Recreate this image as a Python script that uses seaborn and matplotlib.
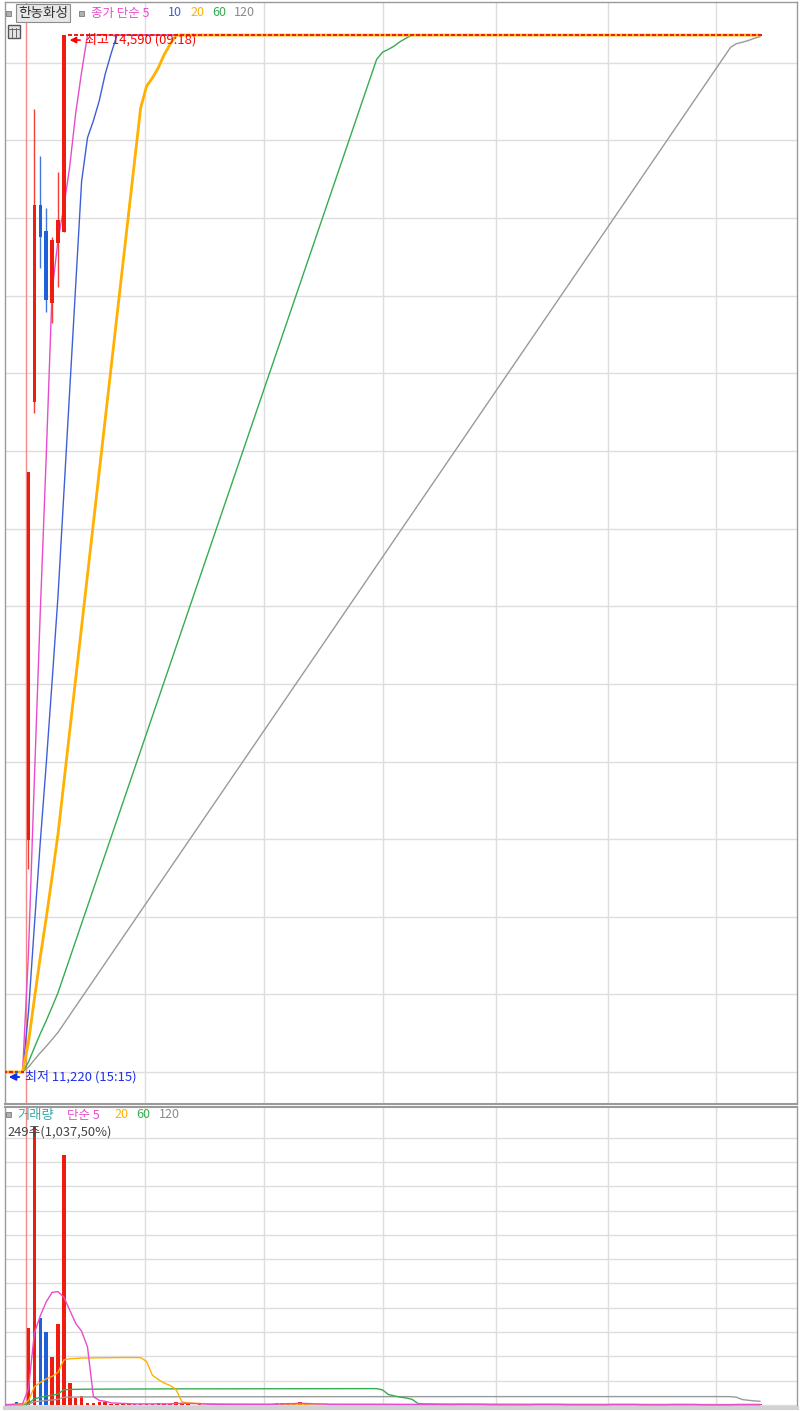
import numpy as np
import pandas as pd
import matplotlib
matplotlib.use("Agg")
import matplotlib.pyplot as plt
import seaborn as sns
from matplotlib.patches import Rectangle

# ---------------- data ----------------
stock_name = "한농화성"
# earlier bars of the previous session (not on screen), pinned at 11,220
hidden_prev_bars = 116
hidden_prev_close = 11220
hidden_prev_volume = 100

# 3-minute bars shown on screen (index 0 = 09:00 of today)
bar_index = [-4, -3, -2, -1, 0, 1, 2, 3, 4, 5, 6]
bar_open = [11220, 11220, 11220, 11220, 11974, 13397, 14038, 13953, 13719, 13914, 13950]
bar_high = [11220, 11220, 11220, 11220, 13170, 14350, 14197, 14028, 13934, 14145, 14590]
bar_low = [11220, 11220, 11220, 11220, 11880, 13362, 13833, 13690, 13654, 13771, 13950]
bar_close = [11220, 11220, 11220, 11220, 13170, 14038, 13934, 13729, 13924, 13989, 14590]
bar_volume = [300, 500, 1200, 400, 31700, 114400, 35800, 30000, 19800, 33300, 102900]
bar_dir = ["flat", "flat", "down", "flat", "up", "up", "down", "down", "up", "up", "up"]

# from 09:21 on the price stays locked at the upper limit
limit_price = 14590
limit_first_index = 7
limit_volume = [
    9000, 2900, 3700, 800, 800, 1200, 1100,
    400, 300, 500, 600, 400, 500,
    300, 400, 700, 600, 300, 1200, 700, 400, 200, 300,
    200, 300, 200, 200, 300, 200, 200, 300, 200, 200,
    200, 300, 900, 700, 700, 300, 1100, 300, 200, 200,
    200, 200, 300, 200, 200, 200, 300, 200, 200, 200,
    200, 200, 200, 300, 200, 200, 200, 200, 200, 200,
    100, 100, 100, 600, 100, 100, 100, 100, 100, 100,
    100, 100, 100, 100, 100, 100, 600, 100, 100, 100,
    100, 100, 100, 100, 100, 100, 100, 100, 100, 600,
    100, 100, 100, 100, 100, 100, 100, 100, 100, 600,
    100, 100, 100, 100, 100, 100, 100, 100, 100, 100,
    600, 100, 100, 24, 249,
]

price_ma_periods = [5, 10, 20, 60, 120]
price_ma_colors = ["#e84ccc", "#3f5fd6", "#ffb000", "#34ad52", "#9a9a9a"]
price_ma_widths = [1.0, 1.0, 2.0, 1.0, 1.0]
vol_ma_periods = [5, 20, 60, 120]
vol_ma_colors = ["#e84ccc", "#ffb000", "#34ad52", "#9a9a9a"]

high_text = "최고 14,590 (09:18)"
low_text = "최저 11,220 (15:15)"
vol_text = "249주(1,037,50%)"

price_grid = [11220, 11472, 11725, 11977, 12229, 12482, 12734, 12986,
              13238, 13491, 13743, 13995, 14248, 14500]
time_grid = [19.75, 39.9, 60.1, 79.2, 98.3, 116.5]
vol_grid = [0, 10000, 20000, 30000, 40000, 50000, 60000, 70000, 80000,
            90000, 100000, 110000]

# ---------------- assemble series ----------------
n_limit = len(limit_volume)
limit_index = list(range(limit_first_index, limit_first_index + n_limit))
full_index = list(range(bar_index[0] - hidden_prev_bars, bar_index[0])) + bar_index + limit_index
full_close = [hidden_prev_close] * hidden_prev_bars + bar_close + [limit_price] * n_limit
full_volume = [hidden_prev_volume] * hidden_prev_bars + bar_volume + limit_volume
df = pd.DataFrame({"idx": full_index, "close": full_close, "volume": full_volume})
for p in price_ma_periods:
    df[f"ma{p}"] = df["close"].rolling(p).mean()
for p in vol_ma_periods:
    df[f"vma{p}"] = df["volume"].rolling(p).mean()
shown = df[df["idx"] >= bar_index[0] - 1].copy()

RED = "#f01c10"
BLUE = "#1f5fd8"

# ---------------- figure ----------------
sns.set_theme(style="white")
plt.rcParams["font.family"] = ["Noto Sans CJK KR", "DejaVu Sans"]

W, H = 800, 1411
fig = plt.figure(figsize=(W / 100, H / 100), dpi=100)
fig.patch.set_facecolor("white")


def fx(px):
    return px / W


def fy(py):
    return 1 - py / H


ax = fig.add_axes([fx(5), fy(1104), fx(792), 1102 / H])
axv = fig.add_axes([fx(5), fy(1408), fx(792), 301 / H])

x0, dxp = 28.5, 5.9
xmin, xmax = (5 - x0) / dxp, (797 - x0) / dxp
ppx = 3.25
ax.set_xlim(xmin, xmax)
ax.set_ylim(11220 - 32 * ppx, 11220 + 1070 * ppx)
vpx = 411.5
axv.set_xlim(xmin, xmax)
axv.set_ylim(-3 * vpx, 298 * vpx)

for a in (ax, axv):
    a.set_facecolor("white")
    a.set_xticks(time_grid)
    a.grid(True, color="#dedede", lw=1.0)
    a.tick_params(length=0, labelleft=False, labelbottom=False)
    a.set_xlabel("")
    a.set_ylabel("")
    a.set_axisbelow(True)
    a.axvline(-0.5, color="#f28a8a", lw=1.0, zorder=1)
    for s in a.spines.values():
        s.set_color("#9a9a9a")
        s.set_linewidth(1.0)
ax.set_yticks(price_grid)
axv.set_yticks(vol_grid)
ax.spines["bottom"].set_linewidth(1.5)
axv.spines["top"].set_linewidth(1.5)
axv.spines["bottom"].set_color("#cfd3d8")
axv.spines["bottom"].set_linewidth(3)

# price moving averages
for p, c, lw in zip(price_ma_periods[::-1], price_ma_colors[::-1], price_ma_widths[::-1]):
    if p == 20:
        continue
    sns.lineplot(data=shown, x="idx", y=f"ma{p}", ax=ax, color=c, linewidth=lw,
                 estimator=None, legend=False, zorder=3)
sns.lineplot(data=shown, x="idx", y="ma20", ax=ax, color=price_ma_colors[2],
             linewidth=price_ma_widths[2], estimator=None, legend=False, zorder=3)

# candles
bw = 0.6
for i, o, h, l, c, d in zip(bar_index, bar_open, bar_high, bar_low, bar_close, bar_dir):
    col = BLUE if d == "down" else RED
    ax.vlines(i, l, h, color=col, lw=1.0, alpha=0.85, zorder=4)
    if o == c:
        ax.hlines(c, i - bw / 2, i + bw / 2, color=col, lw=1.6, zorder=5)
    else:
        ax.bar(i, abs(c - o), bottom=min(o, c), width=bw, color=col, zorder=5, linewidth=0)
ax.hlines([limit_price] * n_limit, np.array(limit_index) - 0.33,
          np.array(limit_index) + 0.33, color=RED, lw=1.4, zorder=5)

# volume bars
vcol = []
for d in bar_dir:
    vcol.append(BLUE if d == "down" else (RED if d == "up" else "#8a8a8a"))
axv.bar(bar_index, bar_volume, width=bw, color=vcol, linewidth=0, zorder=3)
axv.bar(limit_index, limit_volume, width=bw, color=RED, linewidth=0, zorder=3)

for p, c in zip(vol_ma_periods[::-1], vol_ma_colors[::-1]):
    sns.lineplot(data=shown, x="idx", y=f"vma{p}", ax=axv, color=c, linewidth=1.0,
                 estimator=None, legend=False, zorder=4)

# high / low markers
hi_i = bar_index[int(np.argmax(bar_high))]
hi_v = max(bar_high)
ax.annotate("", xy=(hi_i + 3 / dxp, hi_v - 5 * ppx), xytext=(hi_i + 19 / dxp, hi_v - 5 * ppx),
            arrowprops=dict(arrowstyle="-|>", color="red", lw=1.2, mutation_scale=9), zorder=6)
ax.text(hi_i + 21 / dxp, hi_v - 4.5 * ppx, high_text, color="red", fontsize=9.4,
        va="center", ha="left", zorder=6)
lo_i = bar_index[0]
lo_v = min(bar_low)
ax.annotate("", xy=(lo_i + 1 / dxp, lo_v - 5 * ppx), xytext=(lo_i + 17 / dxp, lo_v - 5 * ppx),
            arrowprops=dict(arrowstyle="-|>", color="#1530e0", lw=1.4, mutation_scale=10), zorder=6)
ax.text(lo_i + 20 / dxp, lo_v - 4.5 * ppx, low_text, color="#2030e8", fontsize=9.4,
        va="center", ha="left", zorder=6)


# ---------------- legend texts ----------------
def square(px, py, s=5):
    fig.add_artist(Rectangle((fx(px), fy(py + s)), s / W, s / H, transform=fig.transFigure,
                             fc="#b0b0b0", ec="#7a7a7a", lw=0.6))


FS = 9.0
square(6, 11)
fig.text(fx(18), fy(13), stock_name, fontsize=9.8, color="#333333", va="center", ha="left",
         bbox=dict(boxstyle="square,pad=0.16", fc="#e8e8e8", ec="#8c8c8c", lw=0.8))
square(79, 11)
fig.text(fx(91), fy(13), "종가 단순 5", fontsize=FS, color=price_ma_colors[0], va="center")
fig.text(fx(168), fy(13), "10", fontsize=FS, color=price_ma_colors[1], va="center")
fig.text(fx(190), fy(13), "20", fontsize=FS, color=price_ma_colors[2], va="center")
fig.text(fx(212), fy(13), "60", fontsize=FS, color=price_ma_colors[3], va="center")
fig.text(fx(234), fy(13), "120", fontsize=FS, color="#8a8a8a", va="center")

# small grid icon
fig.add_artist(Rectangle((fx(8), fy(38)), 12 / W, 13 / H, transform=fig.transFigure,
                         fc="#e4e4e4", ec="#555555", lw=1.0))
for k in (1, 2):
    fig.add_artist(plt.Line2D([fx(8 + 4 * k)] * 2, [fy(37), fy(28)], transform=fig.transFigure,
                              color="#666666", lw=0.7))
fig.add_artist(plt.Line2D([fx(9), fx(19)], [fy(29)] * 2, transform=fig.transFigure,
                          color="#666666", lw=0.7))

square(6, 1112)
fig.text(fx(17), fy(1115), "거래량", fontsize=9.6, color="#3aa8a8", va="center")
fig.text(fx(67), fy(1115), "단순 5", fontsize=FS, color=vol_ma_colors[0], va="center")
fig.text(fx(114), fy(1115), "20", fontsize=FS, color=vol_ma_colors[1], va="center")
fig.text(fx(136), fy(1115), "60", fontsize=FS, color=vol_ma_colors[2], va="center")
fig.text(fx(159), fy(1115), "120", fontsize=FS, color="#8a8a8a", va="center")
fig.text(fx(7), fy(1132), vol_text, fontsize=9.3, color="#444444", va="center")

fig.savefig("out.png", dpi=100, facecolor="white")
